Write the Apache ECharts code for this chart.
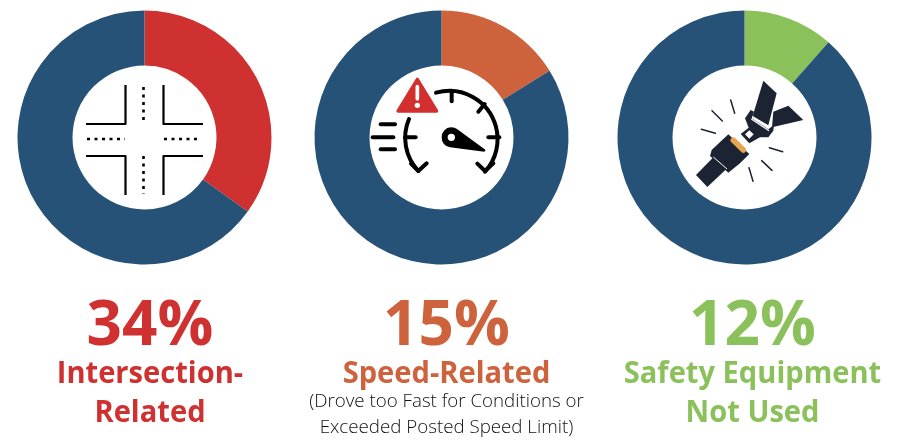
<!DOCTYPE html>
<html>
<head>
<meta charset="utf-8">
<style>
html, body { margin: 0; padding: 0; background: #fff; }
#main { width: 899px; height: 441px; }
</style>
<script src="https://cdn.jsdelivr.net/npm/echarts@6/dist/echarts.min.js"></script>
</head>
<body>
<div id="main"></div>
<script>
// slice sizes, they run a bit apart from the printed labels
var categories = ['Intersection-Related', 'Speed-Related', 'Safety Equipment Not Used'];
var sliceValues = [34.9, 16.2, 11.5];
var restValues = [65.1, 83.8, 88.5];
var percentLabels = ['34%', '15%', '12%'];
var titleLines = [['Intersection-', 'Related'], ['Speed-Related'], ['Safety Equipment', 'Not Used']];
var noteLines = [[], ['(Drove too Fast for Conditions or', 'Exceeded Posted Speed Limit)'], []];

var colors = ['#cf3030', '#cd623c', '#8bc15a'];
var navy = '#265277';
var ink = '#1c2433';
var centersX = [144.5, 441.5, 744.5];
var textX = [150, 446.5, 752.5];
var centerY = 137.5;
var font = '"Open Sans", sans-serif';

function text(str, x, y, size, weight, color, sx) {
    return {
        type: 'text', x: x, y: y, scaleX: sx, silent: true,
        style: { text: str, fill: color, font: weight + ' ' + size + 'px ' + font, align: 'center', verticalAlign: 'middle' }
    };
}

function stroke(d, color, w, extra) {
    var style = { fill: 'none', stroke: color, lineWidth: w, lineCap: 'round', lineJoin: 'round' };
    for (var k in extra) style[k] = extra[k];
    return { type: 'path', shape: { pathData: d }, style: style, silent: true };
}

function fill(d, color) {
    return { type: 'path', shape: { pathData: d }, style: { fill: color }, silent: true };
}

// road crossing, plain pixel coordinates
var crossIcon = {
    type: 'group', children: [
        stroke('M125.5 85V124H86', '#000', 2.2, { lineCap: 'butt' }),
        stroke('M163.5 85V124H203', '#000', 2.2, { lineCap: 'butt' }),
        stroke('M86 156H125.5V195', '#000', 2.2, { lineCap: 'butt' }),
        stroke('M203 156H163.5V195', '#000', 2.2, { lineCap: 'butt' }),
        stroke('M143.5 87V124', '#000', 2.6, { lineCap: 'butt', lineDash: [3, 4.5] }),
        stroke('M143.5 156V194', '#000', 2.6, { lineCap: 'butt', lineDash: [3, 4.5] }),
        stroke('M87 139H125', '#000', 2.6, { lineCap: 'butt', lineDash: [3, 4.5] }),
        stroke('M164 139H201', '#000', 2.6, { lineCap: 'butt', lineDash: [3, 4.5] })
    ]
};

// speedometer, drawn at 3x then scaled down
var speedIcon = {
    type: 'group', x: 350, y: 60, scaleX: 1 / 3, scaleY: 1 / 3, children: [
        stroke('M258 98A145 145 0 0 1 405 335', '#000', 12),
        stroke('M177 177A145 145 0 0 0 205 333', '#000', 12),
        stroke('M183 311L205 333L230 310', '#000', 12),
        stroke('M382 311L405 333L430 310', '#000', 12),
        stroke('M305 92V124', '#000', 12),
        stroke('M385 155L404 132', '#000', 12),
        stroke('M415 232H448', '#000', 12),
        stroke('M165 232H197', '#000', 12),
        stroke('M92 193H135', '#000', 12),
        stroke('M68 232H130', '#000', 12),
        stroke('M92 268H135', '#000', 12),
        fill('M275 232A29 29 0 0 1 322 208L407 270L403 275L300 262A29 29 0 0 1 275 232Z', '#000'),
        { type: 'circle', shape: { cx: 304, cy: 232, r: 11 }, style: { fill: '#fff' }, silent: true },
        {
            type: 'path', shape: { pathData: 'M202 58L260 153H144Z' }, silent: true,
            style: { fill: '#d32f2f', stroke: '#d32f2f', lineWidth: 10, lineJoin: 'round' }
        },
        stroke('M202 80V116', '#fff', 11),
        { type: 'circle', shape: { cx: 202, cy: 136, r: 8 }, style: { fill: '#fff' }, silent: true }
    ]
};

// seat belt, same 3x drawing
var beltIcon = {
    type: 'group', x: 660, y: 60, scaleX: 1 / 3, scaleY: 1 / 3, children: [
        fill('M310 62L350 100L325 196L278 168Z', ink),
        fill('M340 155L385 137L430 180L336 202Z', ink),
        fill('M255 175L272 150L282 155L275 175L325 208L342 195L340 212L325 232L300 232L268 250L242 222L266 203Z', ink),
        stroke('M274 177L327 212', '#fff', 3.5, { lineCap: 'butt' }),
        fill('M268 211L281 223L268 236L255 223Z', '#fff'),
        fill('M205 223L268 282L240 310L205 338L150 288L155 270Z', ink),
        stroke('M220 241L250 270', '#e8a54f', 17),
        fill('M108 345L160 292L200 326L142 381Z', ink),
        stroke('M160 291L201 327', '#fff', 3, { lineCap: 'butt' }),
        stroke('M212 120L224 160', ink, 4.5),
        stroke('M156 152L187 183', ink, 4.5),
        stroke('M124 208L166 220', ink, 4.5),
        stroke('M328 263L368 275', ink, 4.5),
        stroke('M305 302L336 331', ink, 4.5),
        stroke('M267 323L279 364', ink, 4.5)
    ]
};

var series = categories.map(function (name, i) {
    return {
        type: 'pie',
        name: name,
        silent: true,
        animation: false,
        center: [centersX[i], centerY],
        radius: [72, 127],
        startAngle: 90,
        clockwise: true,
        label: { show: false },
        labelLine: { show: false },
        data: [
            { value: sliceValues[i], name: name, itemStyle: { color: colors[i] } },
            { value: restValues[i], name: 'Other', itemStyle: { color: navy } }
        ]
    };
});

// the icons go through a custom series, graphic has no path element
series.push({
    type: 'custom',
    coordinateSystem: 'none',
    silent: true,
    animation: false,
    z: 5,
    data: [0],
    renderItem: function () {
        return { type: 'group', children: [crossIcon, speedIcon, beltIcon] };
    }
});

var labels = [];
categories.forEach(function (name, i) {
    labels.push(text(percentLabels[i], textX[i], 327, 62, 700, colors[i], 1));
    titleLines[i].forEach(function (line, j) {
        labels.push(text(line, textX[i], 374 + j * 39, 30, 700, colors[i], 0.97));
    });
    noteLines[i].forEach(function (line, j) {
        labels.push(text(line, textX[i], 402 + j * 25.5, 19, 300, '#111', 0.985));
    });
});

var chart = echarts.init(document.getElementById('main'), null, { renderer: 'canvas' });
chart.setOption({
    backgroundColor: '#fff',
    series: series,
    graphic: { elements: labels }
});
</script>
</body>
</html>
